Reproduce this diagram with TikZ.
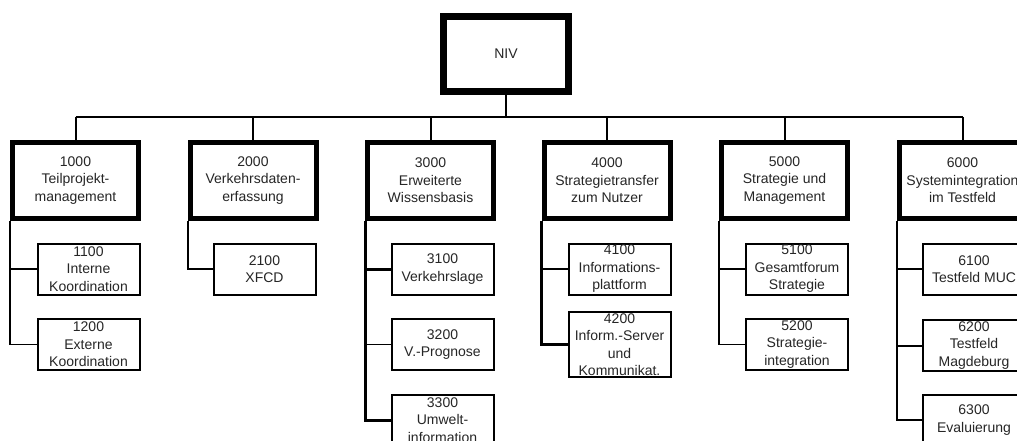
\documentclass[tikz,border=0pt]{standalone}
\usepackage{fontspec}
\setmainfont{Liberation Sans}
\begin{document}
\begin{tikzpicture}[x=1pt,y=-1pt,
  every node/.style={font=\fontsize{14}{17.5}\selectfont, align=center, inner sep=0pt, text=black!85},
  topbox/.style={draw, line width=7pt, minimum width=125pt, minimum height=75pt},
  mainbox/.style={draw, line width=5pt, minimum width=126pt, minimum height=76pt},
  subbox/.style={draw, line width=2pt, minimum width=102pt, minimum height=51pt},
  conn/.style={line width=2pt},
  thinconn/.style={line width=1.5pt},
  thickconn/.style={line width=3pt}]
\fill[white] (0,0) rectangle (1017,441);
\useasboundingbox (0,0) rectangle (1017,441);
\clip (0,0) rectangle (1017,441);

\node[topbox] (niv) at (506,54) {NIV};

\node[mainbox] (m1) at (75.5,180.5) {1000\\Teilprojekt-\\management};
\node[mainbox] (m2) at (253,180.5) {2000\\Verkehrsdaten-\\erfassung};
\node[mainbox] (m3) at (430.5,180.5) {3000\\Erweiterte\\Wissensbasis};
\node[mainbox] (m4) at (607,180.5) {4000\\Strategietransfer\\zum Nutzer};
\node[mainbox] (m5) at (784.5,180.5) {5000\\Strategie und\\Management};
\node[mainbox] (m6) at (962.5,180.5) {6000\\Systemintegration\\im Testfeld};

\node[subbox] (s11) at (88.5,269) {1100\\Interne\\Koordination};
\node[subbox] (s12) at (88.5,344.5) {1200\\Externe\\Koordination};
\node[subbox] (s21) at (264.5,269) {2100\\XFCD};
\node[subbox] (s31) at (442.5,269) {3100\\Verkehrslage};
\node[subbox] (s32) at (442.5,344.5) {3200\\V.-Prognose};
\node[subbox] (s33) at (442.5,420) {3300\\Umwelt-\\information};
\node[subbox] (s41) at (619.5,269) {4100\\Informations-\\plattform};
\node[subbox, minimum height=65pt] (s42) at (619.5,344.5) {4200\\Inform.-Server\\und\\Kommunikat.};
\node[subbox] (s51) at (797,269) {5100\\Gesamtforum\\Strategie};
\node[subbox] (s52) at (797,344.5) {5200\\Strategie-\\integration};
\node[subbox] (s61) at (974,269) {6100\\Testfeld MUC};
\node[subbox] (s62) at (974,345.5) {6200\\Testfeld\\Magdeburg};
\node[subbox] (s63) at (974,420) {6300\\Evaluierung};

% bus
\coordinate (busL) at (75.5,117);
\coordinate (busR) at (962.5,117);
\draw[conn] (busL) -- (busR);
\draw[conn] (niv.south) -- (niv.south |- busL);
\foreach \m in {m1,m2,m3,m4,m5,m6}
  \draw[conn] (\m.north |- busL) -- (\m.north);

% branches
\draw[thinconn] (m1.south west) |- (s12.west);
\draw[thinconn] (m1.south west |- s11.west) -- (s11.west);

\draw[conn] (m2.south west) |- (s21.west);

\draw[thickconn] (m3.south west) |- (s33.west);
\draw[thickconn] (m3.south west |- s31.west) -- (s31.west);
\draw[thinconn] (m3.south west |- s32.west) -- (s32.west);

\draw[thickconn] (m4.south west) |- (s42.west);
\draw[thinconn] (m4.south west |- s41.west) -- (s41.west);

\draw[thinconn] (m5.south west) |- (s52.west);
\draw[conn] (m5.south west |- s51.west) -- (s51.west);

\draw[conn] (m6.south west) |- (s63.west);
\draw[thinconn] (m6.south west |- s61.west) -- (s61.west);
\draw[conn] (m6.south west |- s62.west) -- (s62.west);
\end{tikzpicture}
\end{document}
